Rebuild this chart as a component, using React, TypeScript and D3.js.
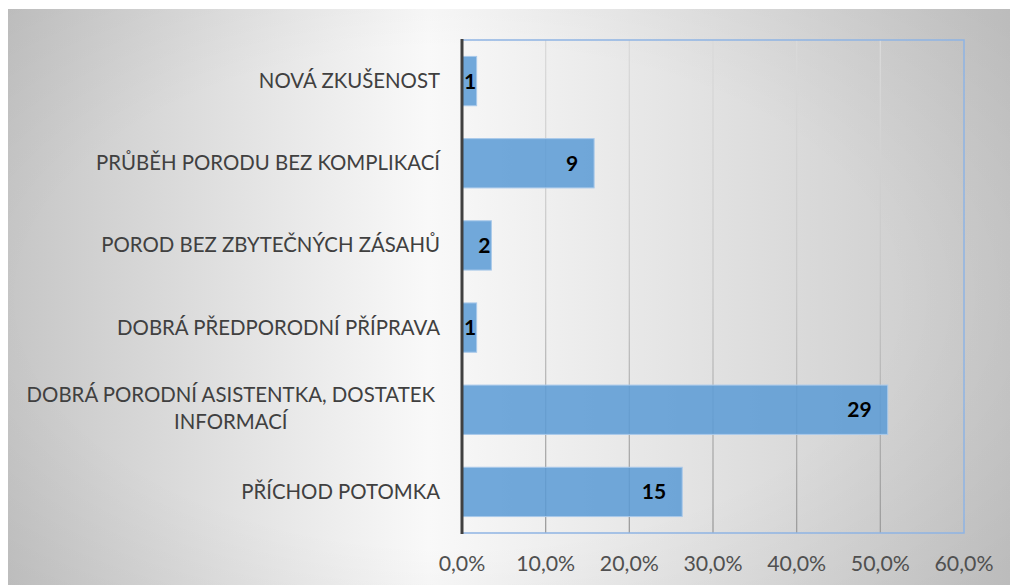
import React, { useEffect, useRef } from "react";
import * as d3 from "d3";

// ---- data ----
const categories = [
  "NOVÁ ZKUŠENOST",
  "PRŮBĚH PORODU BEZ KOMPLIKACÍ",
  "POROD BEZ ZBYTEČNÝCH ZÁSAHŮ",
  "DOBRÁ PŘEDPORODNÍ PŘÍPRAVA",
  "DOBRÁ PORODNÍ ASISTENTKA, DOSTATEK INFORMACÍ",
  "PŘÍCHOD POTOMKA",
];
const categoryLines = [
  ["NOVÁ ZKUŠENOST"],
  ["PRŮBĚH PORODU BEZ KOMPLIKACÍ"],
  ["POROD BEZ ZBYTEČNÝCH ZÁSAHŮ"],
  ["DOBRÁ PŘEDPORODNÍ PŘÍPRAVA"],
  ["DOBRÁ PORODNÍ ASISTENTKA, DOSTATEK", "INFORMACÍ"],
  ["PŘÍCHOD POTOMKA"],
];
const counts = [1, 9, 2, 1, 29, 15];
const shares = [0.0175, 0.1579, 0.0351, 0.0175, 0.5088, 0.2632];
const xTicks = [0, 0.1, 0.2, 0.3, 0.4, 0.5, 0.6];

const W = 1010;
const H = 585;
const FONT = "Lato, 'Open Sans', sans-serif";

export default function App() {
  const ref = useRef<SVGSVGElement | null>(null);

  useEffect(() => {
    const svg = d3.select(ref.current);
    svg.selectAll("*").remove();

    const left = 462, right = 964, top = 40, bottom = 533;
    const x = d3.scaleLinear().domain([0, 0.6]).range([left, right]);
    const y = d3
      .scaleBand<string>()
      .domain(categories)
      .range([top, bottom])
      .paddingInner(0.4)
      .paddingOuter(0.2);

    const defs = svg.append("defs");
    const lg = defs
      .append("linearGradient")
      .attr("id", "bgLin")
      .attr("x1", 0).attr("y1", 0).attr("x2", 1).attr("y2", 0);
    lg.append("stop").attr("offset", 0).attr("stop-color", "#c6c6c6");
    lg.append("stop").attr("offset", 0.42).attr("stop-color", "#f9f9f9");
    lg.append("stop").attr("offset", 1).attr("stop-color", "#c8c8c8");

    const rg = defs
      .append("radialGradient")
      .attr("id", "bgRad")
      .attr("cx", 0.45).attr("cy", 0.5).attr("r", 0.72);
    rg.append("stop").attr("offset", 0).attr("stop-color", "#000").attr("stop-opacity", 0);
    rg.append("stop").attr("offset", 0.6).attr("stop-color", "#000").attr("stop-opacity", 0);
    rg.append("stop").attr("offset", 1).attr("stop-color", "#000").attr("stop-opacity", 0.06);

    const gg = defs
      .append("linearGradient")
      .attr("id", "gridGrad")
      .attr("gradientUnits", "userSpaceOnUse")
      .attr("x1", 0).attr("y1", top).attr("x2", 0).attr("y2", bottom);
    gg.append("stop").attr("offset", 0).attr("stop-color", "#dadada");
    gg.append("stop").attr("offset", 0.5).attr("stop-color", "#c8c8c8");
    gg.append("stop").attr("offset", 1).attr("stop-color", "#9c9c9c");

    // background
    svg.append("rect").attr("x", 8).attr("y", 9).attr("width", W - 8).attr("height", H - 9).attr("fill", "url(#bgLin)");
    svg.append("rect").attr("x", 8).attr("y", 9).attr("width", W - 8).attr("height", H - 9).attr("fill", "url(#bgRad)");

    // gridlines
    svg
      .append("g")
      .selectAll("line")
      .data(xTicks.filter((t) => t > 0 && t < 0.6))
      .join("line")
      .attr("x1", (d) => x(d)).attr("x2", (d) => x(d))
      .attr("y1", top).attr("y2", bottom)
      .attr("stroke", "url(#gridGrad)")
      .attr("stroke-width", 1.3);

    // bars
    svg
      .append("g")
      .selectAll("rect")
      .data(categories)
      .join("rect")
      .attr("x", x(0))
      .attr("y", (d) => y(d) as number)
      .attr("width", (_d, i) => x(shares[i]) - x(0))
      .attr("height", y.bandwidth())
      .attr("fill", "rgba(91,155,213,0.86)")
      .attr("stroke", "#a9c9ea")
      .attr("stroke-width", 1);

    // plot border (top/right/bottom)
    svg
      .append("path")
      .attr("d", `M${left},${top}H${right}V${bottom}H${left}`)
      .attr("fill", "none")
      .attr("stroke", "#8eb4e3")
      .attr("stroke-width", 1.5);

    // left axis line
    svg
      .append("line")
      .attr("x1", left).attr("x2", left)
      .attr("y1", top - 1).attr("y2", bottom + 1)
      .attr("stroke", "#404040")
      .attr("stroke-width", 3);

    // x tick labels
    const locale = d3.formatLocale({ decimal: ",", thousands: " ", grouping: [3], currency: ["", " Kč"] });
    const fmt = locale.format(".1%");
    svg
      .append("g")
      .selectAll("text")
      .data(xTicks)
      .join("text")
      .attr("x", (d) => x(d))
      .attr("y", 571)
      .attr("text-anchor", "middle")
      .attr("font-family", FONT)
      .attr("font-size", 21.3)
      .attr("fill", "#505050")
      .text((d) => fmt(d));

    // category labels
    const CAT_SIZE = 20.4;
    const catG = svg.append("g");
    categories.forEach((c, i) => {
      const cy = (y(c) as number) + y.bandwidth() / 2;
      const lines = categoryLines[i];
      if (lines.length === 1) {
        catG
          .append("text")
          .attr("x", 440)
          .attr("y", cy + 7)
          .attr("text-anchor", "end")
          .attr("font-family", FONT)
          .attr("font-size", CAT_SIZE)
          .attr("fill", "#404040")
          .text(lines[0]);
      } else {
        const tmp = catG
          .append("text")
          .attr("font-family", FONT)
          .attr("font-size", CAT_SIZE)
          .text(lines[0]);
        const w0 = (tmp.node() as SVGTextElement).getComputedTextLength();
        tmp.remove();
        const cx = 435 - w0 / 2;
        const offsets = [-8, 19];
        lines.forEach((ln, j) => {
          catG
            .append("text")
            .attr("x", cx)
            .attr("y", cy + offsets[j])
            .attr("text-anchor", "middle")
            .attr("font-family", FONT)
            .attr("font-size", CAT_SIZE)
            .attr("fill", "#404040")
            .text(ln);
        });
      }
    });

    // data labels
    const lblG = svg.append("g");
    categories.forEach((c, i) => {
      const cy = (y(c) as number) + y.bandwidth() / 2;
      const t = lblG
        .append("text")
        .attr("font-family", FONT)
        .attr("font-size", 21)
        .attr("font-weight", 700)
        .attr("fill", "#000")
        .attr("y", cy + 7.5)
        .text(String(counts[i]));
      const tw = (t.node() as SVGTextElement).getComputedTextLength();
      const x0 = x(0);
      const x1 = x(shares[i]);
      const barW = x1 - x0;
      const rightEdge = barW - 16 - tw >= 2 ? x1 - 16 : x1 - 1;
      const start = Math.max(rightEdge - tw, x0 + 2);
      t.attr("x", start);
    });
  }, []);

  return (
    <svg
      ref={ref}
      width={W}
      height={H}
      style={{ position: "absolute", left: 0, top: 0, display: "block" }}
    />
  );
}
